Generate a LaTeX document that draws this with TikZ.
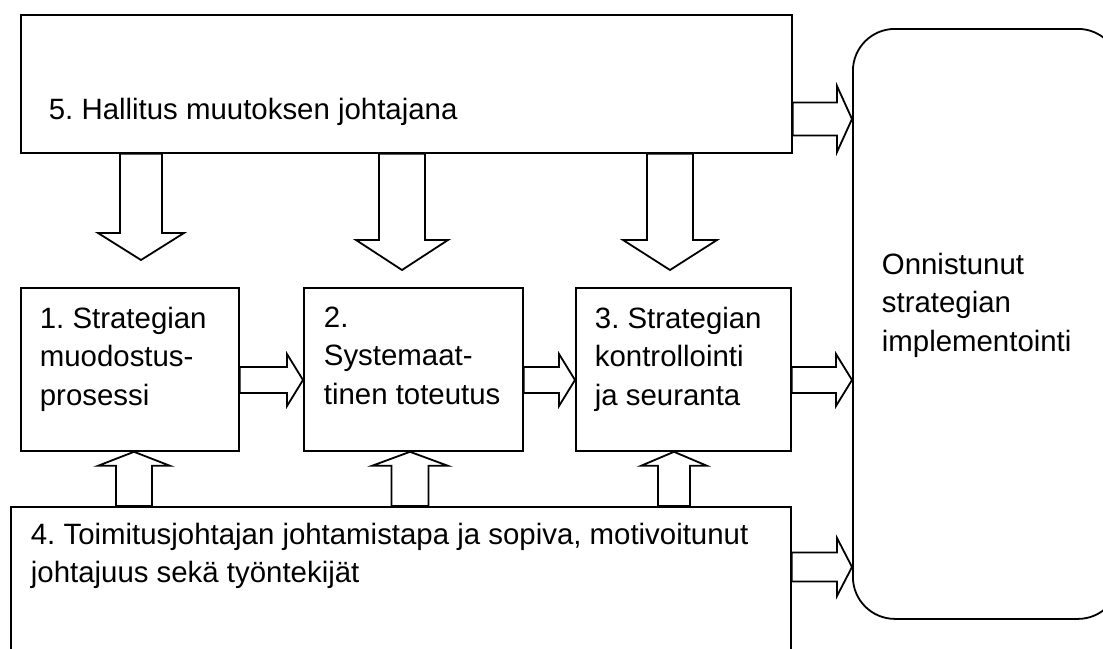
\documentclass[tikz,border=0pt]{standalone}
\usepackage{fontspec}
\setmainfont{Liberation Sans}
\frenchspacing
\usetikzlibrary{calc}
\newcommand{\fatarrow}[5]{%
  \coordinate (fas) at (#1); \coordinate (fae) at (#2);
  \coordinate (fab) at ($(fae)!#5!(fas)$);
  \draw[fat] ($(fas)!#3!90:(fae)$) -- ($(fab)!#3!90:(fae)$) -- ($(fab)!#4!90:(fae)$) -- (fae)
    -- ($(fab)!#4!-90:(fae)$) -- ($(fab)!#3!-90:(fae)$) -- ($(fas)!#3!-90:(fae)$) -- cycle;}

\begin{document}
\begin{tikzpicture}[x=1pt,y=-1pt,line width=1.8pt,
  box/.style={draw,rectangle,inner sep=0,anchor=north west},
  txt/.style={anchor=north west,inner sep=0,align=left,font=\fontsize{29.4}{38.5}\selectfont},
  fat/.style={draw,fill=white,line join=miter}]
\useasboundingbox (0,0) rectangle (1103,648);
\clip (0,0) rectangle (1103,648);
\node[box,minimum width=771,minimum height=138] (h5) at (20,14) {};
\node[box,minimum width=218,minimum height=163] (s1) at (20,287) {};
\node[box,minimum width=219,minimum height=163] (s2) at (303,287) {};
\node[box,minimum width=215,minimum height=163] (s3) at (575,287) {};
\node[box,minimum width=780,minimum height=250] (t4) at (10,506) {};
\node[box,rounded corners=42,minimum width=267,minimum height=590] (goal) at (852,28) {};

\node[txt] (h5t) at (48,97) {5. Hallitus muutoksen johtajana};
\node[txt] (s1t) at (39,306) {1. Strategian\\muodostus-\\prosessi};
\node[txt] (s2t) at (323,306) {2.\\Systemaat-\\tinen toteutus};
\node[txt] (s3t) at (594,306) {3. Strategian\\kontrollointi\\ja seuranta};
\node[txt] (goalt) at (881,252) {Onnistunut\\strategian\\implementointi};
\node[txt] (t4t) at (30,522) {4. Toimitusjohtajan johtamistapa ja sopiva, motivoitunut\\johtajuus sekä työntekijät};

\fatarrow{h5.east |- 0,119}{goal.west |- 0,119}{16.5pt}{33pt}{15pt}
\fatarrow{s1.east |- 0,380}{s2.west |- 0,380}{13pt}{26pt}{16pt}
\fatarrow{s2.east |- 0,380}{s3.west |- 0,380}{13pt}{26pt}{16pt}
\fatarrow{s3.east |- 0,380}{goal.west |- 0,380}{13pt}{26pt}{16pt}
\fatarrow{t4.east |- 0,567}{goal.west |- 0,567}{14.5pt}{29pt}{15pt}
\fatarrow{141,0 |- h5.south}{$(141,0 |- s1.north)+(0,-27)$}{21pt}{43pt}{27pt}
\fatarrow{402,0 |- h5.south}{$(402,0 |- s2.north)+(0,-17)$}{23pt}{46pt}{30pt}
\fatarrow{670,0 |- h5.south}{$(670,0 |- s3.north)+(0,-17)$}{23pt}{47pt}{30pt}
\fatarrow{134,0 |- t4.north}{134,0 |- s1.south}{18pt}{36pt}{14pt}
\fatarrow{410,0 |- t4.north}{410,0 |- s2.south}{18.5pt}{38pt}{14pt}
\fatarrow{674,0 |- t4.north}{674,0 |- s3.south}{16pt}{33pt}{14pt}
\end{tikzpicture}
\end{document}
